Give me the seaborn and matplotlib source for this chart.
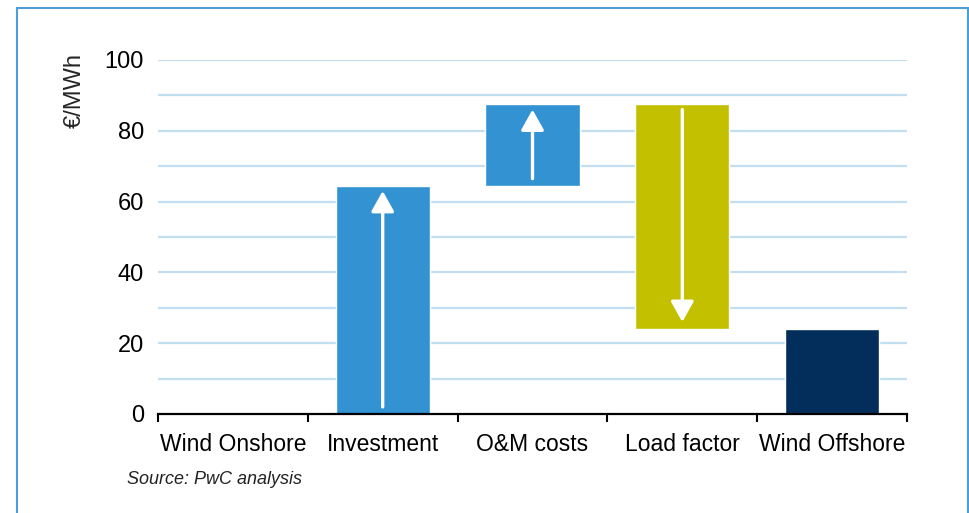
import matplotlib
matplotlib.use("Agg")
import matplotlib.pyplot as plt
import matplotlib.patches as mpatches
import numpy as np
import pandas as pd
import seaborn as sns

# ── data ──────────────────────────────────────────────────────────────────────
categories = ["Wind Onshore", "Investment", "O&M costs", "Load factor", "Wind Offshore"]
bottoms = [0.0, 0.0, 64.5, 24.0, 0.0]
heights = [0.0, 64.5, 23.0, 63.5, 24.0]
directions = [0, 1, 1, -1, 0]   # arrow direction inside each bar
colors = ["#3392d1", "#3392d1", "#3392d1", "#c3c000", "#032d5a"]
y_ticks = [0, 20, 40, 60, 80, 100]

sns.set_style("white")
plt.rcParams["font.family"] = ["Liberation Sans", "DejaVu Sans"]

fig = plt.figure(figsize=(9.7, 5.13), dpi=100)
ax = fig.add_axes([158 / 970, 1 - 414 / 513, (907 - 158) / 970, (414 - 60) / 513])

# gridlines every 10
for v in range(10, 101, 10):
    ax.axhline(v, color="#c3def0", lw=1.6, zorder=0)

# waterfall bars, one call per step so each gets its own bottom
for cat, b, h, c in zip(categories, bottoms, heights, colors):
    df = pd.DataFrame({"step": [cat], "value": [h]})
    sns.barplot(data=df, x="step", y="value", order=categories, color=c,
                width=0.63, bottom=b, saturation=1, ax=ax, zorder=2)

# white arrows showing direction of change
for i, (b, h, d) in enumerate(zip(bottoms, heights, directions)):
    if d == 0:
        continue
    lo, hi = b + 2.0, b + h - 1.5
    start, end = (lo, hi) if d > 0 else (hi, lo)
    ax.annotate("", xy=(i, end), xytext=(i, start),
                arrowprops=dict(arrowstyle="-|>,head_length=1.25,head_width=0.7",
                                color="white", lw=2.4, shrinkA=0, shrinkB=0),
                zorder=3)

ax.set_xlim(-0.5, len(categories) - 0.5)
ax.set_ylim(0, 100)
ax.set_yticks(y_ticks)
ax.set_xlabel("")
ax.set_ylabel("")
ax.set_xticks(range(len(categories)))
ax.set_xticklabels(categories)
ax.set_xticks(np.arange(-0.5, len(categories)), minor=True)
ax.tick_params(axis="x", which="major", bottom=False, length=0, pad=14,
               labelsize=16.5, colors="black")
ax.tick_params(axis="x", which="minor", bottom=True, length=6, width=1.5,
               direction="out", color="black")
ax.tick_params(axis="y", length=0, pad=10, labelsize=17, colors="black")

for side in ["top", "right", "left"]:
    ax.spines[side].set_visible(False)
ax.spines["bottom"].set_color("black")
ax.spines["bottom"].set_linewidth(1.6)
ax.spines["bottom"].set_zorder(4)

fig.text(75 / 970, 1 - 90 / 513, "€/MWh", rotation=90, ha="center", va="center",
         fontsize=17)
fig.text(127 / 970, 1 - 480 / 513, "Source: PwC analysis", ha="left", va="center",
         fontsize=13, style="italic", color="#222222")

# light blue frame around the exhibit
fig.patches.append(mpatches.Rectangle((17 / 970, -0.1), (968 - 17) / 970, 1.1 - 8 / 513,
                                      transform=fig.transFigure, fill=False,
                                      edgecolor="#4a9fd8", lw=1.5))

fig.savefig("out.png", dpi=100)
plt.close()
